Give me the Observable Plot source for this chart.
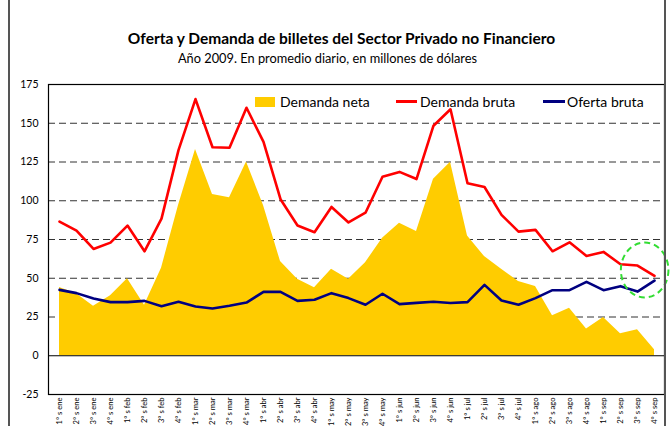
<!DOCTYPE html>
<html>
<head>
<meta charset="utf-8">
<script src="https://cdn.jsdelivr.net/npm/d3@7"></script>
<script src="https://cdn.jsdelivr.net/npm/@observablehq/plot@0.6"></script>
<style>
  body { margin: 0; background: #fff; font-family: Lato, "Open Sans", sans-serif; }
  #wrap { position: relative; width: 670px; height: 426px; overflow: hidden; background: #fff; }
  #chart { position: absolute; left: 0; top: 0; }
  .t { position: absolute; text-align: center; white-space: nowrap; color: #000; }
  #title { left: 0; width: 683px; top: 29px; font-size: 15.5px; font-weight: bold; }
  #sub { left: 0; width: 655px; top: 50px; font-size: 12.8px; }
  .lg { position: absolute; font-size: 14px; line-height: 16px; white-space: nowrap; color: #000; }
  .sw { position: absolute; }
  .border { position: absolute; top: 0; width: 2px; height: 426px; background: #555; }
</style>
</head>
<body>
<div id="wrap">
  <div id="chart"></div>
  <div class="border" style="left:8px"></div>
  <div class="border" style="left:664px"></div>
  <div id="title" class="t">Oferta y Demanda de billetes del Sector Privado no Financiero</div>
  <div id="sub" class="t">Año 2009. En promedio diario, en millones de dólares</div>
  <div class="sw" style="left:255px;top:97px;width:20px;height:10px;background:#ffcc00"></div>
  <div class="lg" style="left:280px;top:94px">Demanda neta</div>
  <div class="sw" style="left:396px;top:100px;width:21px;height:3px;background:#ff0000"></div>
  <div class="lg" style="left:420px;top:94px">Demanda bruta</div>
  <div class="sw" style="left:543px;top:100px;width:22px;height:3px;background:#000080"></div>
  <div class="lg" style="left:567px;top:94px">Oferta bruta</div>
</div>
<script>
const meses = ["ene", "feb", "mar", "abr", "may", "jun", "jul", "ago", "sep"];
const semanas = meses.flatMap(m => [1, 2, 3, 4].map(n => `${n}° s ${m}`));

const demandaNeta = [44, 40, 32, 38.7, 49.6, 32.6, 56.5, 97, 133, 104, 102, 125,
  97, 60.8, 49.4, 43.8, 55.8, 49.4, 60, 75.8, 85.5, 80.1, 113.8, 124.8,
  77.3, 64, 55.8, 47.9, 44.7, 25.8, 30.7, 17.2, 24.7, 14.2, 16.8, 3.9];
const demandaBruta = [86.5, 80.7, 68.9, 73, 84, 67.4, 88.5, 132.7, 165.6, 134.5, 134.2, 160,
  138, 101, 84, 79.7, 96, 86, 92.3, 115.5, 118.6, 114, 148.4, 159,
  111.3, 108.9, 90.9, 80.1, 81.2, 67.4, 73.2, 64.4, 67, 59, 58.2, 51.5];
const ofertaBruta = [42.5, 40.4, 36.9, 34.6, 34.6, 35.4, 32, 34.8, 31.8, 30.5, 32.2, 34.3,
  41.2, 41.2, 35.4, 36.1, 40.4, 37.2, 32.9, 40, 33.3, 34.1, 34.8, 34,
  34.6, 45.7, 35.6, 32.9, 37.2, 42.3, 42.3, 47.7, 42.3, 44.9, 41.4, 48.5];

const yTicks = [-25, 0, 25, 50, 75, 100, 125, 150, 175];
const gridTicks = [25, 50, 75, 100, 125, 150];

const data = semanas.map((s, i) => ({
  semana: s, neta: demandaNeta[i], bruta: demandaBruta[i], oferta: ofertaBruta[i]
}));

const plot = Plot.plot({
  width: 670,
  height: 426,
  marginTop: 84,
  marginBottom: 32,
  marginLeft: 48,
  marginRight: 6,
  style: { fontFamily: "Lato, 'Open Sans', sans-serif", background: "transparent", overflow: "visible", color: "#000" },
  x: { type: "point", domain: semanas, padding: 0.5 },
  y: { domain: [-25, 175] },
  marks: [
    Plot.ruleY(gridTicks, { stroke: "#333", strokeWidth: 1, strokeDasharray: "7,4" }),
    Plot.areaY(data, { x: "semana", y: "neta", fill: "#ffcc00" }),
    Plot.ruleY([0], { stroke: "#000", strokeWidth: 1.2 }),
    Plot.lineY(data, { x: "semana", y: "bruta", stroke: "#ff0000", strokeWidth: 2.6 }),
    Plot.lineY(data, { x: "semana", y: "oferta", stroke: "#000080", strokeWidth: 2.6 }),
    Plot.frame({ stroke: "#000", strokeWidth: 1.2 }),
    Plot.axisY({ ticks: yTicks, tickSize: 0, tickPadding: 10, fontSize: 10.5, label: null, tickFormat: d => String(d) }),
    Plot.axisX({ tickRotate: -90, tickSize: 0, tickPadding: 3, fontSize: 7.6, label: null })
  ]
});

document.getElementById("chart").appendChild(plot);

// dashed green highlight ellipse around the last weeks, placed with the plot scales
const xs = plot.scale("x"), ys = plot.scale("y");
const x34 = xs.apply(semanas[34]), x35 = xs.apply(semanas[35]);
const step = x35 - x34;
d3.select(plot).append("ellipse")
  .attr("cx", x34 + 0.45 * step)
  .attr("cy", ys.apply(55))
  .attr("rx", 1.4 * step)
  .attr("ry", Math.abs(ys.apply(0) - ys.apply(17.7)))
  .attr("fill", "none")
  .attr("stroke", "#33dd33")
  .attr("stroke-width", 2)
  .attr("stroke-dasharray", "6,4");
</script>
</body>
</html>
